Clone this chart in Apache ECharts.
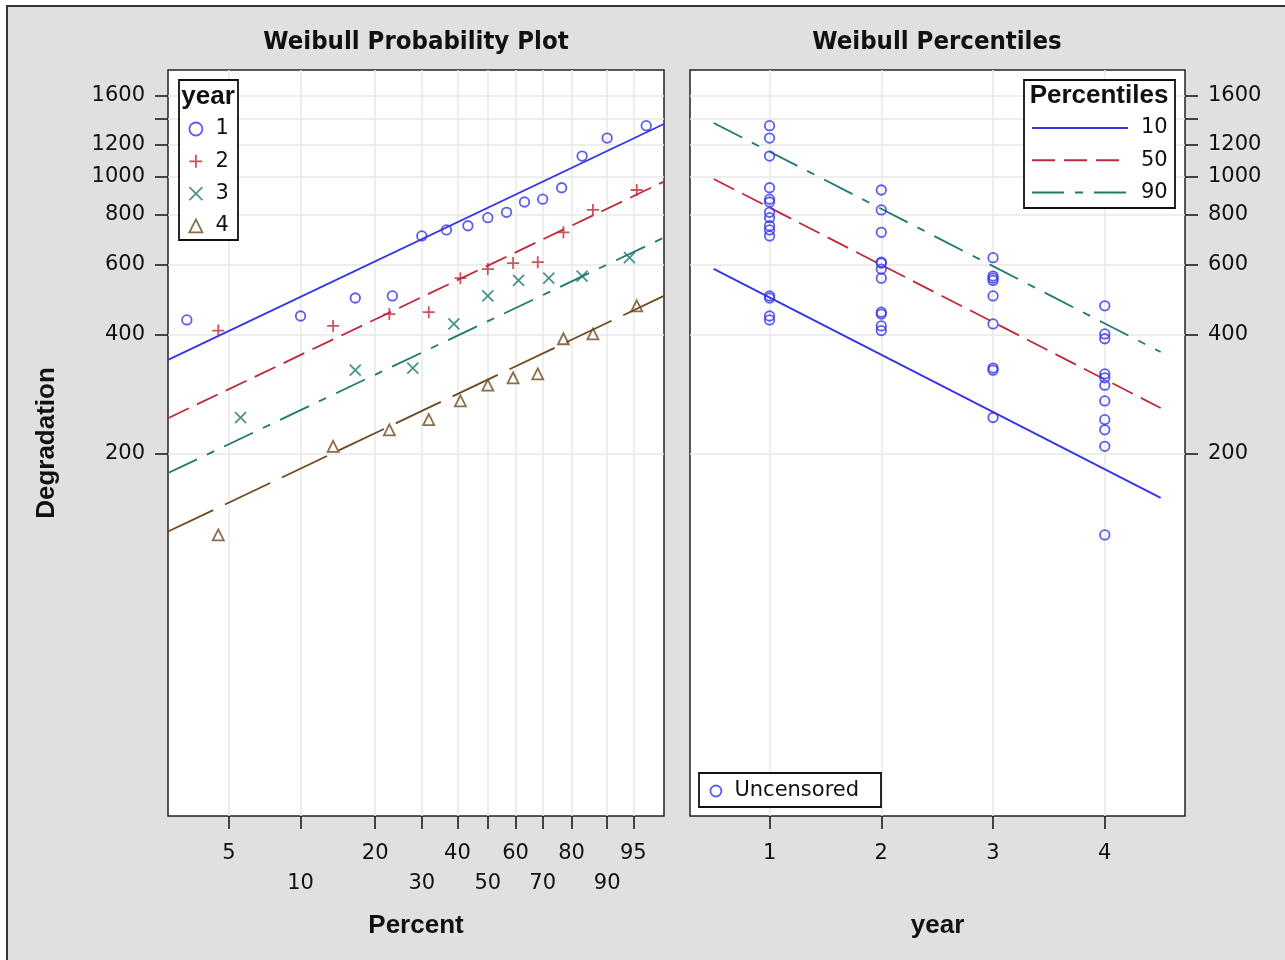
<!DOCTYPE html>
<html>
<head>
<meta charset="utf-8">
<title>Weibull Probability Plot / Weibull Percentiles</title>
<script src="https://cdn.jsdelivr.net/npm/echarts@6/dist/echarts.min.js"></script>
<style>
  html, body { margin: 0; padding: 0; background: #fff; }
  #frame {
    position: absolute; left: 6px; top: 5px; width: 1300px; height: 980px;
    background: #e0e0e0; border-left: 2px solid #333; border-top: 2px solid #333;
  }
  #chart { position: absolute; left: 0; top: 0; width: 1285px; height: 960px; }
</style>
</head>
<body>
<div id="frame"></div>
<div id="chart"></div>
<script>
// ---- data ----
// plotting positions (percent) and degradation for each year
const pctYear1 = [3.3, 10, 16.7, 23.3, 30, 36.7, 43.3, 50, 56.7, 63.3, 70, 76.7, 83.3, 90, 96.7];
const degYear1 = [435, 445, 494, 500, 708, 733, 751, 787, 812, 862, 876, 936, 1125, 1249, 1342];
const pctYear2 = [4.5, 13.6, 22.7, 31.8, 40.9, 50, 59.1, 68.2, 77.3, 86.4, 95.5];
const degYear2 = [409, 420, 450, 455, 554, 584, 605, 608, 723, 823, 924];
const pctYear3 = [5.6, 16.7, 27.8, 38.9, 50, 61.1, 72.2, 83.3, 94.4];
const degYear3 = [247, 325, 329, 425, 500, 547, 554, 561, 624];
const pctYear4 = [4.5, 13.6, 22.7, 31.8, 40.9, 50, 59.1, 68.2, 77.3, 86.4, 95.5];
const degYear4 = [125, 209, 230, 244, 272, 298, 311, 318, 390, 401, 472];

// fitted Weibull lines (end points, percent -> degradation)
const fitPct = [2.74, 98.3];
const fitYear1 = [345, 1355];
const fitYear2 = [246, 970];
const fitYear3 = [179, 701];
const fitYear4 = [127.5, 500];

// percentile lines against year
const pctlYears = [0.5, 4.5];
const pctl10 = [585, 155];
const pctl50 = [985, 261];
const pctl90 = [1363, 361];

// axis ticks (percent labels sit on two rows)
const pctTicks = [5, 10, 20, 30, 40, 50, 60, 70, 80, 90, 95];
const pctRow1 = [5, 20, 40, 60, 80, 95];
const pctRow2 = [10, 30, 50, 70, 90];
const degTicks = [200, 400, 600, 800, 1000, 1200, 1400, 1600];
const degLabels = [200, 400, 600, 800, 1000, 1200, 1600];
const yearTicks = [1, 2, 3, 4];

// ---- styling ----
const blue = '#3434e8';
const red = '#c0283b';
const teal = '#1d7a6c';
const brown = '#6d4a1f';
const gridColor = '#e8e8e8';
const regFont = 'DejaVu Sans';
const boldFont = 'Liberation Sans';
const titleFont = "'DejaVu Sans Condensed', 'DejaVu Sans', sans-serif";

const plusPath = 'path://M6,0L6,12M0,6L12,6';
const crossPath = 'path://M0,0L12,12M12,0L0,12';

// weibull probability scale
const weib = p => Math.log(-Math.log(1 - p / 100));
const unweib = w => 100 * (1 - Math.exp(-Math.exp(w)));
const pctLabel = w => String(Math.round(unweib(w)));

const yearSets = [
  { name: '1', pct: pctYear1, deg: degYear1, fit: fitYear1, color: blue, symbol: 'circle', size: 9.5, dash: 'solid' },
  { name: '2', pct: pctYear2, deg: degYear2, fit: fitYear2, color: red, symbol: plusPath, size: 12, dash: [23, 9] },
  { name: '3', pct: pctYear3, deg: degYear3, fit: fitYear3, color: teal, symbol: crossPath, size: 11, dash: [32, 11, 8, 11] },
  { name: '4', pct: pctYear4, deg: degYear4, fit: fitYear4, color: brown, symbol: 'triangle', size: 11, dash: [50, 13] }
];

const chart = echarts.init(document.getElementById('chart'));

const tickLabel = { fontFamily: regFont, fontSize: 21, color: '#111' };
const axisNameStyle = { fontFamily: boldFont, fontWeight: 'bold', fontSize: 26, color: '#111' };
const tickStyle = { color: '#111', width: 1.5 };

const yAxisBase = {
  type: 'log',
  min: 24.5,
  max: 1853,
  axisLine: { show: false, onZero: false },
  axisTick: { show: true, length: 13, lineStyle: tickStyle, customValues: degTicks },
  axisLabel: Object.assign({ margin: 23, customValues: degLabels, formatter: v => String(Math.round(v)) }, tickLabel),
  splitLine: { show: true, lineStyle: { color: gridColor, width: 1.5 } }
};

const series = [];

yearSets.forEach(s => {
  series.push({
    name: s.name,
    type: 'scatter',
    xAxisIndex: 0,
    yAxisIndex: 0,
    symbol: s.symbol,
    symbolSize: s.size,
    itemStyle: { color: 'transparent', borderColor: s.color, borderWidth: 1.8 },
    data: s.pct.map((p, i) => [weib(p), s.deg[i]]),
    z: 3
  });
  series.push({
    name: 'fit ' + s.name,
    type: 'line',
    xAxisIndex: 0,
    yAxisIndex: 0,
    symbol: 'none',
    itemStyle: { color: s.color },
    lineStyle: { color: s.color, width: 1.8, type: s.dash },
    data: fitPct.map((p, i) => [weib(p), s.fit[i]]),
    z: 2
  });
});

// right panel: all observations against year
const uncensored = [];
yearSets.forEach((s, k) => {
  s.deg.forEach(v => uncensored.push([yearTicks[k], v]));
});
series.push({
  name: 'Uncensored',
  type: 'scatter',
  xAxisIndex: 1,
  yAxisIndex: 1,
  symbol: 'circle',
  symbolSize: 9.5,
  itemStyle: { color: 'transparent', borderColor: blue, borderWidth: 1.8 },
  data: uncensored,
  z: 3
});

const pctlLines = [
  { name: '10', vals: pctl10, color: blue, dash: 'solid' },
  { name: '50', vals: pctl50, color: red, dash: [23, 9] },
  { name: '90', vals: pctl90, color: teal, dash: [32, 11, 8, 11] }
];
pctlLines.forEach(l => {
  series.push({
    name: l.name,
    type: 'line',
    xAxisIndex: 1,
    yAxisIndex: 1,
    symbol: 'none',
    itemStyle: { color: l.color },
    lineStyle: { color: l.color, width: 1.8, type: l.dash },
    data: pctlYears.map((y, i) => [y, l.vals[i]]),
    z: 2
  });
});

const legendText = { fontFamily: regFont, fontSize: 21, color: '#111', lineHeight: 22, padding: [0, 0, 0, 8] };

const option = {
  backgroundColor: 'transparent',
  animation: false,
  title: [
    {
      text: 'Weibull Probability Plot', left: 416, top: 29, textAlign: 'center', padding: 0,
      textStyle: { fontFamily: titleFont, fontWeight: 'bold', fontSize: 25.5, color: '#111' }
    },
    {
      text: 'Weibull Percentiles', left: 937, top: 29, textAlign: 'center', padding: 0,
      textStyle: { fontFamily: titleFont, fontWeight: 'bold', fontSize: 25.5, color: '#111' }
    }
  ],
  grid: [
    { left: 168, top: 70, width: 496, height: 746, show: true, backgroundColor: '#fff', borderColor: '#222', borderWidth: 1.5, outerBoundsMode: 'none' },
    { left: 690, top: 70, width: 495, height: 746, show: true, backgroundColor: '#fff', borderColor: '#222', borderWidth: 1.5, outerBoundsMode: 'none' }
  ],
  xAxis: [
    {
      // probability axis, ticks + first label row
      gridIndex: 0,
      type: 'value',
      min: -3.584,
      max: 1.406,
      name: 'Percent',
      nameLocation: 'middle',
      nameGap: 97,
      nameTextStyle: axisNameStyle,
      axisLine: { show: false, onZero: false },
      axisTick: { show: true, length: 13, lineStyle: tickStyle, customValues: pctTicks.map(weib) },
      axisLabel: Object.assign({
        margin: 27, showMinLabel: true, showMaxLabel: true,
        customValues: pctRow1.map(weib), formatter: pctLabel
      }, tickLabel),
      splitLine: { show: true, lineStyle: { color: gridColor, width: 1.5 } }
    },
    {
      gridIndex: 1,
      type: 'value',
      min: 0.288,
      max: 4.718,
      name: 'year',
      nameLocation: 'middle',
      nameGap: 97,
      nameTextStyle: axisNameStyle,
      axisLine: { show: false, onZero: false },
      axisTick: { show: true, length: 13, lineStyle: tickStyle, customValues: yearTicks },
      axisLabel: Object.assign({ margin: 27, customValues: yearTicks }, tickLabel),
      splitLine: { show: true, lineStyle: { color: gridColor, width: 1.5 } }
    },
    {
      // second label row of the probability axis
      gridIndex: 0,
      type: 'value',
      position: 'bottom',
      offset: 0,
      min: -3.584,
      max: 1.406,
      axisLine: { show: false, onZero: false },
      axisTick: { show: false },
      splitLine: { show: false },
      axisLabel: Object.assign({
        margin: 57, showMinLabel: true, showMaxLabel: true,
        customValues: pctRow2.map(weib), formatter: pctLabel
      }, tickLabel)
    }
  ],
  yAxis: [
    Object.assign({}, yAxisBase, {
      gridIndex: 0,
      position: 'left',
      name: 'Degradation',
      nameLocation: 'middle',
      nameRotate: 90,
      nameGap: 108,
      nameTextStyle: axisNameStyle
    }),
    Object.assign({}, yAxisBase, {
      gridIndex: 1,
      position: 'right'
    })
  ],
  legend: [
    {
      orient: 'vertical', left: 188.5, top: 118, padding: 0, itemGap: 10.3,
      itemWidth: 13, itemHeight: 13, selectedMode: false, z: 6,
      textStyle: legendText,
      data: yearSets.map(s => ({
        name: s.name,
        icon: s.symbol,
        itemStyle: { color: 'transparent', borderColor: s.color, borderWidth: 1.8 }
      }))
    },
    {
      orient: 'vertical', left: 1031, top: 117, padding: 0, itemGap: 10.3,
      itemWidth: 96, itemHeight: 14, selectedMode: false, z: 6,
      textStyle: legendText,
      data: pctlLines.map(l => ({ name: l.name, itemStyle: { opacity: 0, color: 'transparent', borderWidth: 0 } }))
    },
    {
      orient: 'vertical', left: 709.5, top: 780, padding: 0,
      itemWidth: 11, itemHeight: 11, selectedMode: false, z: 6,
      textStyle: legendText,
      data: [{ name: 'Uncensored', icon: 'circle', itemStyle: { color: 'transparent', borderColor: blue, borderWidth: 1.8 } }]
    }
  ],
  graphic: [
    { type: 'rect', z: 5, shape: { x: 179, y: 80, width: 59, height: 160 }, style: { fill: '#fff', stroke: '#111', lineWidth: 1.8 } },
    { type: 'text', z: 7, x: 208, y: 97, style: { text: 'year', fontFamily: boldFont, fontWeight: 'bold', fontSize: 26, fill: '#111', align: 'center', verticalAlign: 'middle' } },
    { type: 'rect', z: 5, shape: { x: 1024, y: 80, width: 151, height: 128 }, style: { fill: '#fff', stroke: '#111', lineWidth: 1.8 } },
    { type: 'text', z: 7, x: 1099, y: 96, style: { text: 'Percentiles', fontFamily: boldFont, fontWeight: 'bold', fontSize: 26, fill: '#111', align: 'center', verticalAlign: 'middle' } },
    { type: 'rect', z: 5, shape: { x: 699, y: 773, width: 182, height: 34 }, style: { fill: '#fff', stroke: '#111', lineWidth: 1.8 } }
  ],
  series: series
};

chart.setOption(option);
</script>
</body>
</html>
